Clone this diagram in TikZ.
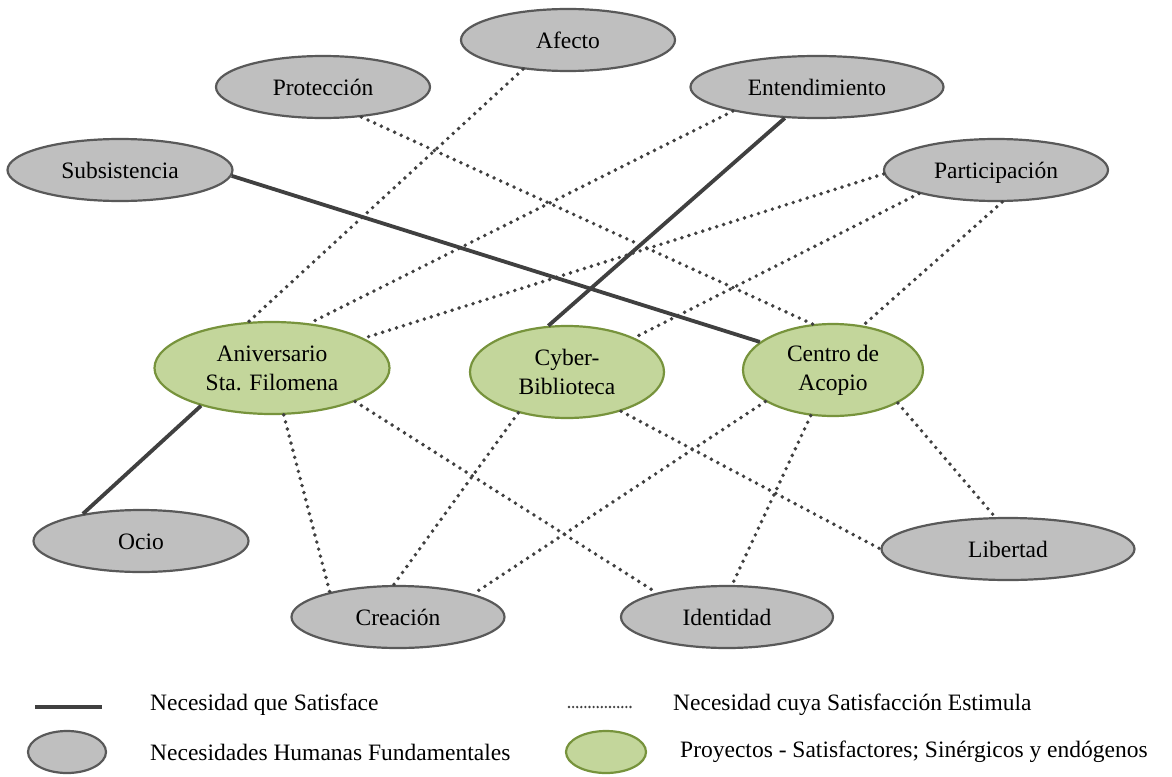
\documentclass[tikz,border=0pt]{standalone}
\usepackage{fontspec}
\setmainfont{Liberation Serif}
\usetikzlibrary{shapes.geometric}
\definecolor{needfill}{HTML}{BFBFBF}
\definecolor{needline}{HTML}{595959}
\definecolor{projfill}{HTML}{C3D69B}
\definecolor{projline}{HTML}{77933C}
\definecolor{linkink}{HTML}{404040}

\begin{document}
\begin{tikzpicture}[x=1pt,y=-1pt,
  font=\fontsize{23.5}{29}\selectfont,
  need/.style={ellipse, draw=needline, fill=needfill, line width=2.2pt, inner sep=0pt, minimum height=62pt, text height=17pt, text depth=0pt},
  proj/.style={ellipse, draw=projline, fill=projfill, line width=2.2pt, inner sep=0pt, minimum height=92pt, align=center},
  satisfies/.style={draw=linkink, line width=3.8pt},
  stimulates/.style={draw=linkink, line width=3.9pt, line cap=round, dash pattern=on 0pt off 7.3pt},
  label/.style={anchor=west, inner sep=0pt}]
\useasboundingbox (0,0) rectangle (1172,776);
% needs
\node[need, minimum width=214pt] (afecto) at (568,40) {Afecto};
\node[need, minimum width=214pt] (proteccion) at (323,87) {Protección};
\node[need, minimum width=253pt] (entendimiento) at (817,87) {Entendimiento};
\node[need, minimum width=225pt] (subsistencia) at (120,170) {Subsistencia};
\node[need, minimum width=224pt] (participacion) at (996,170) {Participación};
\node[need, minimum width=215pt] (ocio) at (141,541) {Ocio};
\node[need, minimum width=253pt] (libertad) at (1008,549) {Libertad};
\node[need, minimum width=213pt] (creacion) at (398,617) {Creación};
\node[need, minimum width=212pt] (identidad) at (727,617) {Identidad};
% projects
\node[proj, minimum width=235pt] (aniversario) at (272,368) {Aniversario\\Sta. Filomena};
\node[proj, minimum width=194pt] (cyber) at (567,372) {Cyber-\\Biblioteca};
\node[proj, minimum width=180pt] (centro) at (833,370) {Centro de\\Acopio};
% links
\draw[satisfies] (subsistencia.357) -- (centro.159);
\draw[satisfies] (entendimiento.224) -- (cyber.112);
\draw[satisfies] (aniversario.208) -- (ocio.155);
\draw[stimulates] (afecto.213) -- (aniversario.117);
\draw[stimulates] (proteccion.322) -- (centro.114);
\draw[stimulates] (entendimiento.196) -- (aniversario.50);
\draw[stimulates] (participacion.182) -- (aniversario.18);
\draw[stimulates] (participacion.197) -- (cyber.27);
\draw[stimulates] (participacion.281) -- (centro.56);
\draw[stimulates] (aniversario.338) -- (identidad.161);
\draw[stimulates] (aniversario.284) -- (creacion.160);
\draw[stimulates] (cyber.220) -- (creacion.98);
\draw[stimulates] (cyber.324) -- (libertad.180);
\draw[stimulates] (centro.205) -- (creacion.17);
\draw[stimulates] (centro.244) -- (identidad.81);
\draw[stimulates] (centro.333) -- (libertad.112);
% legend
\coordinate (solidA) at (35,707);
\coordinate (solidB) at (102,707);
\coordinate (dotA) at (569,707);
\coordinate (dotB) at (634,707);
\draw[satisfies] (solidA) -- (solidB);
\draw[draw=linkink, line width=2.6pt, line cap=round, dash pattern=on 0pt off 4.1pt] (dotA) -- (dotB);
\node[label] (legsolid) at (150,705) {Necesidad que Satisface};
\node[label] (legdot) at (673,705) {Necesidad cuya Satisfacción Estimula};
\node[need, minimum width=78pt, minimum height=42pt] (legneed) at (67,752) {};
\node[proj, minimum width=80pt, minimum height=42pt] (legproj) at (606,752) {};
\node[label] (legneedtext) at (150,752) {Necesidades Humanas Fundamentales};
\node[label] (legprojtext) at (680,752) {Proyectos - Satisfactores; Sinérgicos y endógenos};
\end{tikzpicture}
\end{document}
